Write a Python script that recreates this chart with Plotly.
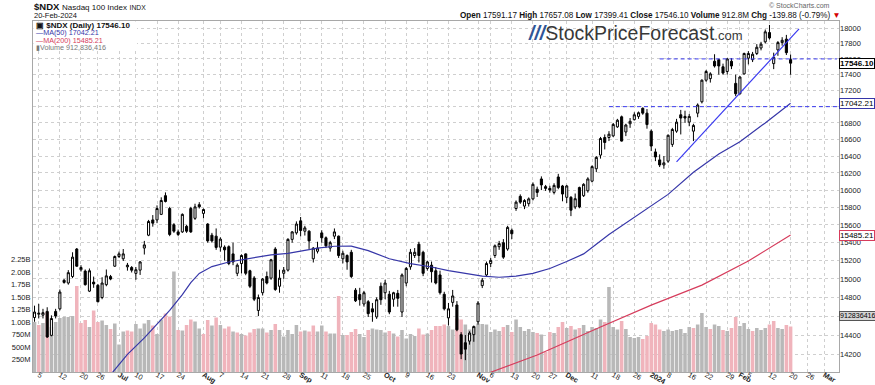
import math
import pandas as pd
import plotly.graph_objects as go

# ---------------- calendar (trading days, US market holidays removed) ----------------
HOLIDAYS = ["2023-06-19", "2023-07-04", "2023-09-04", "2023-11-23",
            "2023-12-25", "2024-01-01", "2024-01-15", "2024-02-19"]
trading_days = [d.strftime("%Y-%m-%d") for d in pd.bdate_range("2023-06-02", "2024-03-06")
                if d.strftime("%Y-%m-%d") not in HOLIDAYS]

# ---------------- daily OHLC ----------------
opens = [14585, 14620, 14610, 14650, 14397, 14650, 14677, 14985, 14955, 15026,
         15329, 15100, 15085, 14867, 14965, 14930, 14798, 14937, 15025, 15139,
         15246, 15221, 15132, 15125, 15060, 15096, 15340, 15484, 15657, 15657,
         15720, 15935, 15787, 15602, 15521, 15521, 15584, 15787, 15675, 15831,
         15731, 15610, 15484, 15473, 15350, 15350, 15355, 15275, 15061, 15168,
         15275, 15089, 15010, 14660, 14850, 15026, 15008, 15329, 14920, 15061,
         15096, 15437, 15510, 15646, 15529, 15529, 15221, 15304, 15510, 15455,
         15340, 15473, 15473, 15221, 15257, 15293, 14878, 14830, 14729, 14753,
         14677, 14591, 14920, 14850, 14833, 14780, 14843, 14643, 14955, 15132,
         15257, 15383, 15293, 15114, 15150, 15089, 15043, 14833, 14581, 14746,
         14718, 14404, 14320, 14337, 14404, 14540, 14927, 15043, 15168, 15257,
         15355, 15400, 15329, 15540, 15787, 15927, 15815, 15843, 15898, 16010,
         16130, 16040, 16020, 15973, 16153, 16048, 15916, 15916, 15805, 16029,
         15935, 15992, 16104, 16250, 16412, 16623, 16623, 16643, 16752, 16875,
         16690, 16790, 16840, 16880, 16980, 16920, 16700, 16450, 16355, 16295,
         16340, 16540, 16700, 16900, 16880, 16810, 16700, 16920, 17060, 17330,
         17350, 17570, 17590, 17500, 17440, 17570, 17290, 17160, 17410, 17610,
         17590, 17670, 17740, 17820, 17940, 17540, 17716, 17810, 17855, 17591.17]
highs = [14711, 14730, 14677, 14694, 14608, 14677, 14885, 14998, 15096, 15293,
         15340, 15150, 15103, 15114, 15025, 14945, 15018, 15103, 15043, 15257,
         15300, 15329, 15175, 15140, 15130, 15196, 15420, 15657, 15712, 15823,
         15916, 15973, 15806, 15620, 15547, 15731, 15602, 15806, 15842, 15860,
         15787, 15620, 15510, 15560, 15460, 15370, 15370, 15400, 15170, 15270,
         15280, 15100, 15030, 14830, 15010, 15080, 15220, 15350, 15100, 15130,
         15450, 15530, 15640, 15690, 15590, 15540, 15350, 15410, 15540, 15470,
         15420, 15560, 15480, 15310, 15270, 15320, 14900, 14903, 14870, 14770,
         14740, 14800, 14960, 14990, 14870, 14860, 14880, 15060, 15130, 15330,
         15340, 15410, 15310, 15200, 15190, 15130, 15090, 14860, 14740, 14880,
         14760, 14430, 14400, 14440, 14500, 14760, 15010, 15190, 15230, 15380,
         15420, 15440, 15590, 15560, 15880, 15950, 15895, 15915, 16090, 16040,
         16160, 16060, 16050, 16080, 16190, 16060, 16060, 15930, 15960, 16040,
         16080, 16150, 16290, 16400, 16630, 16660, 16700, 16800, 16850, 16890,
         16790, 16860, 16930, 16940, 16990, 16970, 16720, 16490, 16420, 16400,
         16660, 16740, 16850, 16960, 16950, 16910, 16790, 17040, 17340, 17460,
         17430, 17660, 17600, 17540, 17610, 17610, 17400, 17380, 17680, 17700,
         17690, 17790, 17820, 17980, 18040, 17680, 17830, 17880, 17910, 17657.08]
lows = [14540, 14575, 14575, 14370, 14387, 14575, 14660, 14948, 14937, 15008,
        15132, 15080, 14927, 14857, 14903, 14746, 14780, 14920, 14985, 15132,
        15230, 15196, 15090, 15070, 14990, 15043, 15268, 15473, 15580, 15620,
        15712, 15857, 15473, 15510, 15473, 15510, 15510, 15510, 15657, 15787,
        15675, 15400, 15400, 15320, 15300, 15200, 15150, 15150, 15030, 15060,
        15040, 14900, 14760, 14600, 14820, 14940, 14990, 14870, 14850, 15000,
        15080, 15400, 15490, 15470, 15480, 15330, 15180, 15280, 15400, 15340,
        15300, 15440, 15230, 15170, 15100, 15010, 14750, 14711, 14700, 14590,
        14540, 14570, 14720, 14780, 14620, 14700, 14700, 14590, 14920, 15100,
        15230, 15180, 15030, 15090, 14960, 14940, 14830, 14660, 14500, 14700,
        14440, 14150, 14140, 14300, 14330, 14510, 14900, 15020, 15130, 15230,
        15320, 15220, 15310, 15440, 15760, 15840, 15780, 15810, 15880, 15920,
        16000, 15990, 15970, 15950, 16010, 15870, 15850, 15700, 15780, 15790,
        15920, 15970, 16090, 16210, 16370, 16480, 16580, 16630, 16740, 16575,
        16640, 16740, 16830, 16850, 16900, 16730, 16460, 16340, 16270, 16250,
        16320, 16510, 16680, 16660, 16800, 16760, 16580, 16870, 17040, 17310,
        17300, 17490, 17400, 17400, 17400, 17470, 17130, 17150, 17400, 17530,
        17560, 17650, 17710, 17800, 17850, 17470, 17640, 17770, 17650, 17399.41]
closes = [14643, 14630, 14636, 14380, 14574, 14600, 14857, 14962, 15068, 15239,
          15139, 15125, 14937, 15089, 14945, 14753, 14955, 15033, 14998, 15246,
          15275, 15275, 15150, 15095, 15100, 15186, 15375, 15639, 15620, 15787,
          15879, 15868, 15492, 15529, 15492, 15720, 15529, 15521, 15806, 15806,
          15776, 15420, 15420, 15347, 15440, 15320, 15168, 15186, 15150, 15257,
          15061, 14920, 14780, 14798, 14998, 14955, 15210, 14885, 15008, 15096,
          15437, 15521, 15610, 15537, 15566, 15420, 15340, 15340, 15455, 15365,
          15400, 15521, 15257, 15282, 15186, 15026, 14763, 14775, 14850, 14626,
          14643, 14775, 14775, 14955, 14643, 14850, 14790, 15043, 15114, 15293,
          15293, 15257, 15061, 15186, 15079, 14955, 14850, 14677, 14677, 14815,
          14455, 14203, 14253, 14421, 14489, 14739, 14985, 15168, 15203, 15365,
          15390, 15239, 15572, 15500, 15860, 15860, 15879, 15898, 16067, 15973,
          16060, 16020, 16000, 16055, 16029, 15954, 16048, 15768, 15900, 15805,
          16067, 16130, 16275, 16385, 16611, 16563, 16663, 16782, 16833, 16580,
          16775, 16820, 16900, 16925, 16920, 16780, 16520, 16390, 16295, 16320,
          16650, 16720, 16810, 16860, 16860, 16880, 16770, 17020, 17330, 17440,
          17410, 17510, 17510, 17420, 17600, 17510, 17160, 17370, 17670, 17670,
          17660, 17750, 17790, 17950, 17870, 17620, 17810, 17840, 17680, 17546.10]
# volume, billions of shares
volume_b = [1.00, 0.94, 0.98, 1.20, 0.90, 1.00, 1.08, 1.10, 1.10, 1.12,
            1.72, 0.98, 1.04, 0.90, 1.23, 1.00, 1.03, 0.94, 0.86, 0.97,
            0.55, 0.81, 0.83, 0.81, 0.96, 0.87, 0.97, 1.04, 0.93, 0.76,
            1.05, 1.17, 1.11, 2.01, 0.84, 0.83, 0.94, 1.05, 1.01, 0.87,
            0.76, 1.04, 0.93, 1.09, 0.94, 0.87, 0.91, 0.81, 0.79, 0.76,
            0.73, 0.79, 0.86, 0.87, 0.87, 0.79, 0.84, 0.96, 0.84, 0.71,
            0.84, 0.76, 0.94, 0.81, 0.83, 0.81, 0.93, 0.81, 0.93, 0.81,
            0.77, 0.77, 1.52, 0.74, 0.74, 0.80, 0.86, 0.76, 0.70, 0.84,
            0.87, 0.85, 0.84, 0.79, 0.82, 0.77, 0.71, 0.84, 0.67, 0.76,
            0.72, 0.87, 0.75, 0.77, 0.84, 0.92, 0.92, 0.95, 0.92, 0.85,
            1.07, 1.05, 0.95, 0.85, 0.91, 0.97, 0.96, 0.95, 0.80, 0.85,
            0.82, 0.90, 0.94, 0.80, 1.05, 0.90, 0.82, 0.86, 0.80, 0.78,
            0.75, 0.40, 0.80, 0.78, 0.90, 1.00, 0.88, 0.92, 0.85, 0.88,
            0.94, 0.82, 0.90, 0.88, 1.05, 1.00, 1.70, 0.90, 0.85, 1.02,
            0.86, 0.70, 0.68, 0.70, 0.66, 0.72, 0.98, 0.95, 0.85, 0.82,
            0.85, 0.82, 0.84, 0.86, 0.78, 0.90, 0.88, 0.95, 1.18, 0.90,
            0.86, 0.95, 0.92, 0.84, 0.82, 0.88, 1.10, 0.92, 0.98, 0.86,
            0.82, 0.88, 0.84, 0.88, 0.95, 1.02, 0.88, 0.86, 0.94, 0.91]

# moving averages (at sample dates)
ma50_dates = ["2023-06-29", "2023-07-06", "2023-07-12", "2023-07-17", "2023-07-20", "2023-07-25",
              "2023-07-27", "2023-07-31", "2023-08-03", "2023-08-09", "2023-08-14", "2023-08-17",
              "2023-08-23", "2023-08-29", "2023-09-05", "2023-09-08", "2023-09-14", "2023-09-20",
              "2023-09-26", "2023-10-03", "2023-10-10", "2023-10-17", "2023-10-23", "2023-10-30",
              "2023-11-02", "2023-11-08", "2023-11-14", "2023-11-20", "2023-11-27", "2023-12-01",
              "2023-12-07", "2023-12-15", "2023-12-21", "2023-12-29", "2024-01-08", "2024-01-17",
              "2024-01-25", "2024-02-01", "2024-02-09", "2024-02-20"]
ma50_values = [13990, 14200, 14370, 14510, 14660, 14830, 14960, 15060, 15135, 15185,
               15210, 15235, 15265, 15280, 15310, 15340, 15360, 15362, 15311, 15221,
               15168, 15130, 15090, 15050, 15030, 15018, 15030, 15061, 15114, 15190,
               15275, 15492, 15620, 15790, 15950, 16209, 16426, 16573, 16800, 17042.21]
ma200_dates = ["2023-11-03", "2023-11-21", "2023-12-13", "2024-01-02", "2024-01-19",
               "2024-02-05", "2024-02-20"]
ma200_values = [14000, 14193, 14485, 14717, 14932, 15196, 15485.21]

# drawn support / trend lines
trend_dates = ["2024-01-10", "2024-02-22"]
trend_values = [16332, 17988]
level_upper_dates = ["2024-01-04", "2024-03-06"]
level_upper = 17600
level_lower_dates = ["2023-12-15", "2024-03-06"]
level_lower = 17000

# axis tick labels
tick_dates = ["2023-06-05", "2023-06-12", "2023-06-20", "2023-06-26", "2023-07-03", "2023-07-10",
              "2023-07-17", "2023-07-24", "2023-08-01", "2023-08-07", "2023-08-14", "2023-08-21",
              "2023-08-28", "2023-09-01", "2023-09-11", "2023-09-18", "2023-09-25", "2023-10-02",
              "2023-10-09", "2023-10-16", "2023-10-23", "2023-11-01", "2023-11-06", "2023-11-13",
              "2023-11-20", "2023-11-27", "2023-12-01", "2023-12-11", "2023-12-18", "2023-12-26",
              "2024-01-02", "2024-01-08", "2024-01-16", "2024-01-22", "2024-01-29", "2024-02-01",
              "2024-02-05", "2024-02-12", "2024-02-20", "2024-02-26", "2024-03-01"]
tick_text = ["5", "12", "20", "26", "<b>Jul</b>", "10", "17", "24", "<b>Aug</b>", "7", "14", "21",
             "28", "<b>Sep</b>", "11", "18", "25", "<b>Oct</b>", "9", "16", "23", "<b>Nov</b>", "6",
             "13", "20", "27", "<b>Dec</b>", "11", "18", "26", "<b>2024</b>", "8", "16", "22", "29",
             "<b>Feb</b>", "5", "12", "20", "26", "<b>Mar</b>"]
price_ticks = list(range(14200, 18001, 200))
vol_ticks = [0.25, 0.50, 0.75, 1.00, 1.25, 1.50, 1.75, 2.00, 2.25]
vol_tick_text = ["250M", "500M", "750M", "1.00B", "1.25B", "1.50B", "1.75B", "2.00B", "2.25B"]

# ---------------- build ----------------
pos = {d: i for i, d in enumerate(trading_days)}
n = len(closes)
x = list(range(n))
FONT = "Liberation Sans, Arial, sans-serif"

vol_colors = ["#b8b8b8" if i == 0 or closes[i] >= closes[i - 1] else "#f0b4bc" for i in range(n)]

fig = go.Figure()
fig.add_trace(go.Bar(x=x, y=volume_b, width=0.84, yaxis="y",
                     marker=dict(color=vol_colors, line=dict(width=0)),
                     hoverinfo="skip", showlegend=False))
fig.add_trace(go.Scatter(x=[pos[d] for d in ma50_dates], y=ma50_values, yaxis="y2", mode="lines",
                         line=dict(color="#3636a8", width=1.2),
                         hoverinfo="skip", showlegend=False))
fig.add_trace(go.Scatter(x=[pos[d] for d in ma200_dates], y=ma200_values, yaxis="y2", mode="lines",
                         line=dict(color="#d63c5c", width=1.2),
                         hoverinfo="skip", showlegend=False))
fig.add_trace(go.Candlestick(x=x, open=opens, high=highs, low=lows, close=closes, yaxis="y2",
                             increasing=dict(line=dict(color="#000000", width=1), fillcolor="#ffffff"),
                             decreasing=dict(line=dict(color="#000000", width=1), fillcolor="#000000"),
                             whiskerwidth=0, hoverinfo="skip", showlegend=False))
for dts, lvl in ((level_upper_dates, level_upper), (level_lower_dates, level_lower)):
    fig.add_trace(go.Scatter(x=[pos[d] for d in dts], y=[lvl, lvl], yaxis="y2", mode="lines",
                             line=dict(color="#3a3af0", width=1, dash="4px,3px"),
                             hoverinfo="skip", showlegend=False))
fig.add_trace(go.Scatter(x=[pos[d] for d in trend_dates], y=trend_values, yaxis="y2", mode="lines",
                         line=dict(color="#3a3af0", width=1.2), hoverinfo="skip", showlegend=False))

# plot-area geometry (pixels) for text placement
L, R, T, B = 33, 839, 21, 372
def px(v):
    return (v - L) / (R - L)
def py(v):
    return (B - v) / (B - T)

ann = []
def text(xp, yp, s, size, color="#111111", anchor="left", family=FONT):
    ann.append(dict(xref="paper", yref="paper", x=px(xp), y=py(yp), text=s, showarrow=False,
                    xanchor=anchor, yanchor="middle", font=dict(size=size, color=color, family=family)))

text(32, 7, "<b>$NDX</b> <span style='font-size:8px'>Nasdaq 100 Index</span> "
            "<span style='font-size:6.8px'>INDX</span>", 9.5)
text(32, 15.5, "20-Feb-2024", 7.5)
text(843, 15.5, "<b>Open</b> 17591.17 <b>High</b> 17657.08 <b>Low</b> 17399.41 <b>Close</b> 17546.10 "
                "<b>Volume</b> 912.8M <b>Chg</b> -139.88 (-0.79%) <span style='color:#d40000'>▼</span>",
     8.15, anchor="right")
text(832, 5.5, "© StockCharts.com", 7, color="#666666", anchor="right")

# legend block
text(34, 25.5, "<b>▣ $NDX (Daily) 17546.10</b>", 8)
text(34, 32.5, "—MA(50) 17042.21", 7.2, color="#3636a8")
text(34, 40, "—MA(200) 15485.21", 7.2, color="#d63c5c")
text(34, 47, "▮Volume 912,836,416", 7.2, color="#777777")

# watermark
text(526, 33, "<b><i><span style='color:#2f5597'>///</span></i></b>"
              "<span style='color:#383838'>StockPriceForecast</span>"
              "<span style='font-size:13px;color:#383838'>.com</span>", 19.5)

# right-axis value tags
def tag(value, label, color, bg="#ffffff", bold=False, yref="y2"):
    t = f"<b>{label}</b>" if bold else label
    ann.append(dict(xref="paper", x=1.0, xanchor="left", yref=yref, y=value, yanchor="middle",
                    text=t, showarrow=False, bgcolor=bg, bordercolor=color, borderwidth=1, borderpad=0,
                    font=dict(size=8, color="#000000", family=FONT)))
tag(math.log10(closes[-1]), "17546.10", "#000000", bold=True)
tag(math.log10(ma50_values[-1]), "17042.21", "#3636a8")
tag(math.log10(ma200_values[-1]), "15485.21", "#d63c5c")
ann.append(dict(xref="paper", x=1.0, xanchor="left", yref="paper", y=py(316), yanchor="middle",
                text="912836416", showarrow=False, bgcolor="#d6d6d6", bordercolor="#555555",
                borderwidth=1, borderpad=0, font=dict(size=7.1, color="#000000", family=FONT)))

shapes = [dict(type="rect", xref="paper", yref="paper", x0=px(33.5), x1=px(137), y0=py(50.5), y1=py(21.5),
               fillcolor="#ffffff", line=dict(width=0), layer="above")]

grid = "#cfcfcf"
fig.update_layout(
    width=875, height=385, autosize=False,
    margin=dict(l=L, r=875 - R, t=T, b=385 - B),
    paper_bgcolor="#ffffff", plot_bgcolor="#ffffff",
    hovermode=False, showlegend=False,
    font=dict(family=FONT, size=7.5, color="#222222"),
    xaxis=dict(range=[-0.36, 190.46], tickmode="array",
               tickvals=[pos[d] for d in tick_dates], ticktext=tick_text,
               showgrid=True, gridcolor=grid, griddash="dot", gridwidth=1,
               showline=True, mirror=True, linecolor="#a8a8a8", linewidth=1,
               zeroline=False, ticks="", ticklabelstandoff=-5,
               tickfont=dict(size=7.3, color="#222222"),
               rangeslider=dict(visible=False), automargin=False, fixedrange=True),
    yaxis=dict(range=[0, 7.02], side="left", tickmode="array", tickvals=vol_ticks,
               ticktext=vol_tick_text, showgrid=False, zeroline=False,
               showline=True, mirror=True, linecolor="#a8a8a8", linewidth=1,
               ticks="", tickfont=dict(size=7.5, color="#222222"), automargin=False, fixedrange=True),
    yaxis2=dict(type="log", overlaying="y", side="right",
                range=[math.log10(14018.6), math.log10(18091.8)],
                tickmode="array", tickvals=price_ticks, ticktext=[str(v) for v in price_ticks],
                showgrid=True, gridcolor=grid, griddash="dot", gridwidth=1, zeroline=False,
                showline=False, ticks="", tickfont=dict(size=7.5, color="#222222"),
                automargin=False, fixedrange=True),
    annotations=ann, shapes=shapes,
)

fig.write_html("out.html", config={"displayModeBar": False},
               post_script="document.body.style.margin='0';document.body.style.overflow='hidden';")
